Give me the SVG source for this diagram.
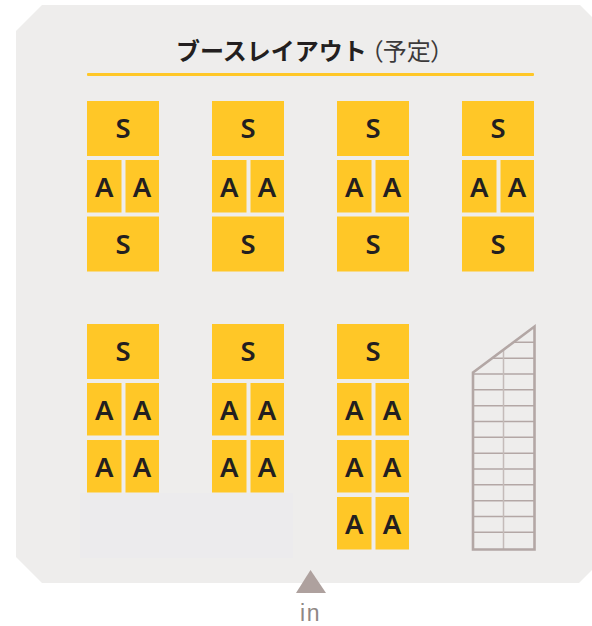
<svg xmlns="http://www.w3.org/2000/svg" width="592" height="626" viewBox="0 0 592 626">
<style>
.b{fill:#ffc727}
.t{font-family:"Noto Sans","Noto Sans CJK JP",sans-serif;font-size:27.5px;font-weight:600;fill:#231f20;text-anchor:middle}
.h{stroke:#b3a7a5;stroke-width:1.4;fill:none}
</style>
<defs>
<g id="s"><rect class="b" width="72" height="55"/><text class="t" x="36" y="37">S</text></g>
<g id="a"><rect class="b" width="34.500" height="52.500"/><text class="t" x="17.300" y="36.500">A</text><rect class="b" x="38.500" width="33.500" height="52.500"/><text class="t" x="55" y="36.500">A</text></g>
<clipPath id="stair-clip"><polygon points="473,372.500 534.500,326.500 534.500,549.500 473,549.500"/></clipPath>
</defs>
<g id="panel"><polygon points="42,5 580,5 592,17 592,570 579,583 42,583 16,557 16,31" fill="#eeedec"/><rect x="80" y="493" width="213" height="65" fill="#ecebed"/></g>
<g id="title"><text x="176" y="60" font-family="'Noto Sans CJK JP',sans-serif" font-size="24" font-weight="700" fill="#231f20">ブースレイアウト<tspan dx="4" font-weight="400" fill="#3c3a3a" style="font-feature-settings:'palt'">（予定）</tspan></text><rect x="87" y="73" width="447" height="3" rx="1" fill="#ffc727"/></g>
<g id="booth-1"><use href="#s" x="87" y="101"/><use href="#a" x="87" y="160"/><use href="#s" x="87" y="216.500"/></g>
<g id="booth-2"><use href="#s" x="212" y="101"/><use href="#a" x="212" y="160"/><use href="#s" x="212" y="216.500"/></g>
<g id="booth-3"><use href="#s" x="337" y="101"/><use href="#a" x="337" y="160"/><use href="#s" x="337" y="216.500"/></g>
<g id="booth-4"><use href="#s" x="462" y="101"/><use href="#a" x="462" y="160"/><use href="#s" x="462" y="216.500"/></g>
<g id="booth-5"><use href="#s" x="87" y="324"/><use href="#a" x="87" y="383"/><use href="#a" x="87" y="440"/></g>
<g id="booth-6"><use href="#s" x="212" y="324"/><use href="#a" x="212" y="383"/><use href="#a" x="212" y="440"/></g>
<g id="booth-7"><use href="#s" x="337" y="324"/><use href="#a" x="337" y="383"/><use href="#a" x="337" y="440"/><use href="#a" x="337" y="497"/></g>
<g id="stairs">
<g clip-path="url(#stair-clip)"><path class="h" d="M473 342.300H535M473 358.200H535M473 374H535M473 389.800H535M473 405.700H535M473 421.500H535M473 437.300H535M473 453.200H535M473 469H535M473 484.800H535M473 500.700H535M473 516.500H535M473 532.300H535"/>
<path d="M503.500 340V550" fill="none" stroke="#c4bbb9" stroke-width="1.500"/></g>
<polygon points="473,372.500 534.500,326.500 534.500,549.500 473,549.500" fill="none" stroke="#b3a7a5" stroke-width="2.600"/>
</g>
<g id="entrance"><polygon points="310.500,570 326,593 296,593" fill="#aea19e"/><text x="310.500" y="620.800" font-family="'Liberation Sans',sans-serif" font-size="23" fill="#8f8785" text-anchor="middle" letter-spacing="1.500">in</text></g>
</svg>
